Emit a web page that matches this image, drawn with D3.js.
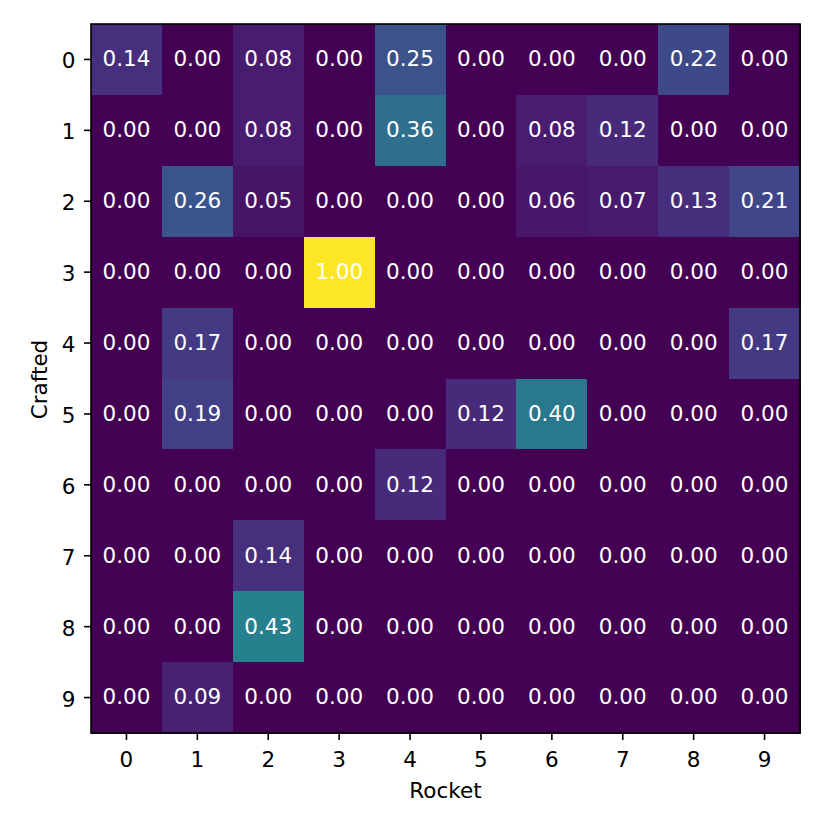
<!DOCTYPE html>
<html>
<head>
<meta charset="UTF-8">
<title>Confusion heatmap</title>
<script src="https://cdnjs.cloudflare.com/ajax/libs/d3/7.8.5/d3.min.js"></script>
<style>
  body { margin: 0; background: #fff; }
  text { font-family: "DejaVu Sans", sans-serif; }
</style>
</head>
<body>
<svg id="chart" width="830" height="830"></svg>
<script>
// rows = Crafted, columns = Rocket
var rowLabels = ["0", "1", "2", "3", "4", "5", "6", "7", "8", "9"];
var colLabels = ["0", "1", "2", "3", "4", "5", "6", "7", "8", "9"];
var row0 = [0.14, 0.00, 0.08, 0.00, 0.25, 0.00, 0.00, 0.00, 0.22, 0.00];
var row1 = [0.00, 0.00, 0.08, 0.00, 0.36, 0.00, 0.08, 0.12, 0.00, 0.00];
var row2 = [0.00, 0.26, 0.05, 0.00, 0.00, 0.00, 0.06, 0.07, 0.13, 0.21];
var row3 = [0.00, 0.00, 0.00, 1.00, 0.00, 0.00, 0.00, 0.00, 0.00, 0.00];
var row4 = [0.00, 0.17, 0.00, 0.00, 0.00, 0.00, 0.00, 0.00, 0.00, 0.17];
var row5 = [0.00, 0.19, 0.00, 0.00, 0.00, 0.12, 0.40, 0.00, 0.00, 0.00];
var row6 = [0.00, 0.00, 0.00, 0.00, 0.12, 0.00, 0.00, 0.00, 0.00, 0.00];
var row7 = [0.00, 0.00, 0.14, 0.00, 0.00, 0.00, 0.00, 0.00, 0.00, 0.00];
var row8 = [0.00, 0.00, 0.43, 0.00, 0.00, 0.00, 0.00, 0.00, 0.00, 0.00];
var row9 = [0.00, 0.09, 0.00, 0.00, 0.00, 0.00, 0.00, 0.00, 0.00, 0.00];
var matrix = [row0, row1, row2, row3, row4, row5, row6, row7, row8, row9];

var plotLeft = 91, plotTop = 24, plotSize = 709;
var fontSize = 21.5;

var svg = d3.select("#chart");

var x = d3.scaleBand().domain(colLabels).range([plotLeft, plotLeft + plotSize]);
var y = d3.scaleBand().domain(rowLabels).range([plotTop, plotTop + plotSize]);
var color = d3.scaleSequential(d3.interpolateViridis).domain([0, 1]);

var cells = [];
matrix.forEach(function (row, i) {
    row.forEach(function (v, j) {
        cells.push({ r: rowLabels[i], c: colLabels[j], v: v });
    });
});

svg.append("g")
    .attr("shape-rendering", "crispEdges")
    .selectAll("rect")
    .data(cells)
    .enter().append("rect")
    .attr("x", function (d) { return x(d.c); })
    .attr("y", function (d) { return y(d.r); })
    .attr("width", x.bandwidth() + 0.5)
    .attr("height", y.bandwidth() + 0.5)
    .attr("fill", function (d) { return color(d.v); });

svg.append("g").selectAll("text")
    .data(cells)
    .enter().append("text")
    .attr("x", function (d) { return x(d.c) + x.bandwidth() / 2; })
    .attr("y", function (d) { return y(d.r) + y.bandwidth() / 2; })
    .attr("dy", "0.32em")
    .attr("text-anchor", "middle")
    .attr("font-size", fontSize)
    .attr("fill", "white")
    .text(function (d) { return d.v.toFixed(2); });

// frame
svg.append("rect")
    .attr("x", plotLeft).attr("y", plotTop)
    .attr("width", plotSize).attr("height", plotSize)
    .attr("fill", "none").attr("stroke", "black").attr("stroke-width", 1.6);

var xAxis = svg.append("g")
    .attr("transform", "translate(0," + (plotTop + plotSize) + ")")
    .call(d3.axisBottom(x).tickSize(7).tickPadding(11.5));
var yAxis = svg.append("g")
    .attr("transform", "translate(" + plotLeft + ",0)")
    .call(d3.axisLeft(y).tickSize(7).tickPadding(8.5));

[xAxis, yAxis].forEach(function (a) {
    a.select(".domain").remove();
    a.selectAll(".tick line").attr("stroke-width", 1.6);
    a.selectAll(".tick text")
        .attr("font-size", fontSize)
        .attr("font-family", "DejaVu Sans, sans-serif")
        .attr("fill", "black");
});
yAxis.selectAll(".tick text").attr("dy", "0.42em");

svg.append("text")
    .attr("x", plotLeft + plotSize / 2).attr("y", 798)
    .attr("text-anchor", "middle").attr("font-size", fontSize)
    .text("Rocket");

svg.append("text")
    .attr("transform", "translate(46.5," + (plotTop + plotSize / 2 + 1) + ") rotate(-90)")
    .attr("text-anchor", "middle").attr("font-size", fontSize)
    .text("Crafted");
</script>
</body>
</html>
